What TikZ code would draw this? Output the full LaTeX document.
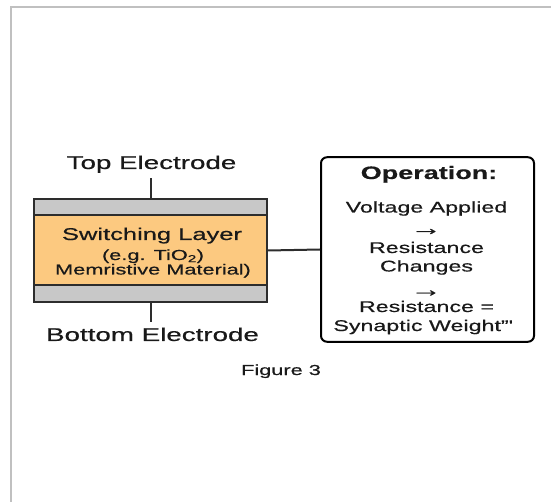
\documentclass[tikz,border=0pt]{standalone}
\usepackage{fontspec}
\setmainfont{Liberation Sans}[FakeStretch=1.5, FakeBold=0.5]
\usetikzlibrary{positioning}
\definecolor{framegray}{RGB}{192,192,192}
\definecolor{layergray}{RGB}{200,200,200}
\definecolor{layerorange}{RGB}{252,201,128}
\definecolor{edge}{RGB}{45,45,45}
\tikzset{
    layer/.style={draw=edge, line width=1.8pt, fill=#1, minimum width=233pt, inner sep=0pt},
    txt/.style={anchor=base, inner sep=0pt, text=black!90, font=\fontsize{#1}{#1}\selectfont},
    wire/.style={draw=edge, line width=2pt}
}
\begin{document}
\begin{tikzpicture}[x=1pt, y=-1pt]
    \useasboundingbox (0,0) rectangle (551,502);
    \draw[framegray, line width=2pt] (11,502) -- (11,7) -- (551,7);

    \node[layer=layergray, minimum height=103pt] (dev) at (150.5,250.5) {};
    \node[layer=layerorange, minimum height=70pt] (sw) at (150.5,250) {};
    \node[txt=17] (swa) at (152,240) {Switching Layer};
    \node[txt=14.5] (swb) at (153,260) {(e.g. TiO\textsubscript{2})};
    \node[txt=14.5] (swc) at (153,274.5) {Memristive Material)};

    \coordinate (ttop) at (150.5,178.5);
    \coordinate (tbot) at (150.5,322);
    \draw[wire] (dev.north) -- (ttop);
    \draw[wire] (dev.south) -- (tbot);
    \node[txt=18.5] (top) at (151.5,169) {Top Electrode};
    \node[txt=18.5] (bot) at (152.5,341) {Bottom Electrode};

    \node[draw=black, line width=2pt, rounded corners=6pt, minimum width=213pt, minimum height=184.5pt] (op) at (427.5,249.5) {};
    \draw[wire] (dev.east) -- (op.west);
    \node[txt=18] (opa) at (429,179) {\bfseries Operation:};
    \node[txt=15.5] (opb) at (426.5,212.5) {Voltage Applied};
    \node[txt=21] (opc) at (426,235) {→};
    \node[txt=15.5] (opd) at (426.5,253) {Resistance};
    \node[txt=15.5] (ope) at (426.5,271.5) {Changes};
    \node[txt=21] (opf) at (426,296.5) {→};
    \node[txt=15.5] (opg) at (426.5,312) {Resistance =};
    \node[txt=15.5] (oph) at (422.5,331) {Synaptic Weight"\textquotesingle};

    \node[txt=14.5] (fig) at (281,375) {Figure 3};
\end{tikzpicture}
\end{document}
